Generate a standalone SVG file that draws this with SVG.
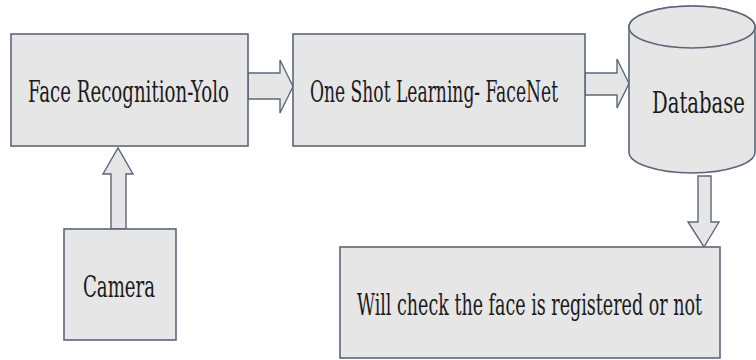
<svg xmlns="http://www.w3.org/2000/svg" width="756" height="360" viewBox="0 0 756 360">
<style>
.n{fill:#e6e6e6;stroke:#5b6779;stroke-width:1.6}
.a{fill:#e6e6e6;stroke:#5b6779;stroke-width:1.4;stroke-linejoin:miter}
.t{font-family:"DejaVu Serif","Liberation Serif",serif;font-stretch:condensed;font-size:29px;fill:#1a1a1a}
</style>
<rect width="756" height="360" fill="#ffffff"/>
<g id="connectors">
<polygon class="a" points="248,73 280,73 280,60 293,86.5 280,113 280,99 248,99"/>
<polygon class="a" points="585,73 617,73 617,59 629,83.5 617,108 617,95 585,95"/>
<polygon class="a" points="698,176 711,176 711,222 719,222 704,247 688,222 698,222"/>
<polygon class="a" points="111,229 111,174 103,174 118,148 133,174 126,174 126,229"/>
</g>
<g id="face-recognition">
<rect class="n" x="11" y="34" width="237" height="112"/>
<text class="t" x="28" y="102" textLength="201" lengthAdjust="spacingAndGlyphs">Face Recognition-Yolo</text>
</g>
<g id="one-shot">
<rect class="n" x="293" y="34" width="292" height="112"/>
<text class="t" x="310" y="102" textLength="248" lengthAdjust="spacingAndGlyphs">One Shot Learning- FaceNet</text>
</g>
<g id="database">
<path class="n" d="M629,27 L629,152 A63,21 0 0 0 755,152 L755,27 A63,21 0 0 0 629,27 Z"/>
<ellipse class="n" cx="692" cy="27" rx="63" ry="21"/>
<text class="t" x="652" y="113" textLength="93" lengthAdjust="spacingAndGlyphs">Database</text>
</g>
<g id="camera">
<rect class="n" x="64" y="229" width="112" height="111"/>
<text class="t" x="83" y="297" textLength="72" lengthAdjust="spacingAndGlyphs">Camera</text>
</g>
<g id="check">
<rect class="n" x="340" y="247" width="380" height="111"/>
<text class="t" x="357" y="315" textLength="345" lengthAdjust="spacingAndGlyphs">Will check the face is registered or not</text>
</g>
</svg>
